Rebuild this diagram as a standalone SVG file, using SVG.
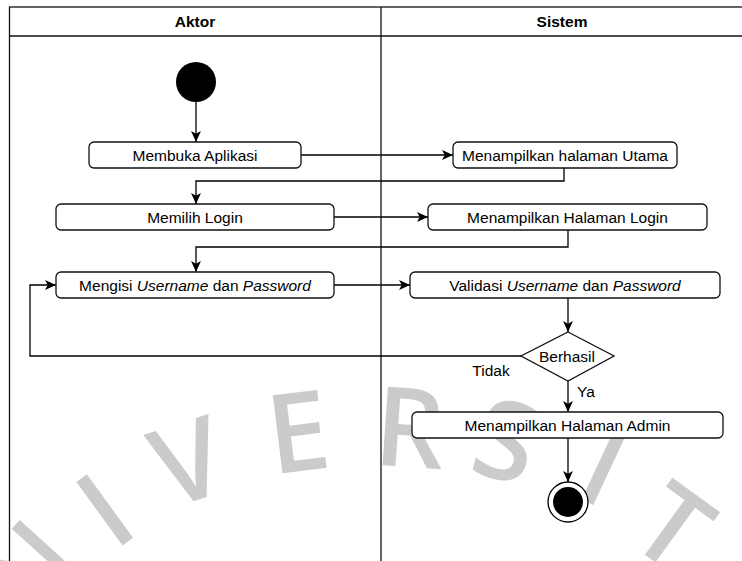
<svg xmlns="http://www.w3.org/2000/svg" width="742" height="561" viewBox="0 0 742 561">
<defs>
<style>
.lane{fill:none;stroke:#111;stroke-width:1.3}
.box{fill:#fff;stroke:#111;stroke-width:1.3}
.t{font-family:"Liberation Sans",Arial,Helvetica,sans-serif;font-size:15.5px;fill:#000;text-anchor:middle}
.h{font-family:"Liberation Sans",Arial,Helvetica,sans-serif;font-size:15.5px;font-weight:bold;fill:#000;text-anchor:middle}
.c{fill:none;stroke:#000;stroke-width:1.3}
.wm{font-family:"Open Sans","Liberation Sans",sans-serif;font-size:110px;font-weight:600;fill:#cbcbcb;text-anchor:middle}
</style>
<marker id="arr" viewBox="0 0 10 10" refX="10" refY="5" markerWidth="11" markerHeight="11" orient="auto" markerUnits="userSpaceOnUse">
<path d="M0,0.5 L10,5 L0,9.5 L2.5,5 z" fill="#000"/>
</marker>
</defs>
<rect width="742" height="561" fill="#fff"/>
<g id="watermark">
<text class="wm" transform="translate(27,571) rotate(-48)" y="39">N</text>
<text class="wm" transform="translate(105,510) rotate(-36)" y="39">I</text>
<text class="wm" transform="translate(188,462) rotate(-18)" y="39">V</text>
<text class="wm" transform="translate(298,432) rotate(-7)" y="39">E</text>
<text class="wm" transform="translate(410,428) rotate(4)" y="39">R</text>
<text class="wm" transform="translate(506,441) rotate(15)" y="39">S</text>
<text class="wm" transform="translate(604,467) rotate(25)" y="39">I</text>
<text class="wm" transform="translate(673,527) rotate(36)" y="39">T</text>
</g>
<g id="swimlanes">
<rect class="lane" x="9.5" y="7" width="734" height="570"/>
<line class="lane" x1="9.5" y1="36" x2="743.5" y2="36"/>
<line class="lane" x1="381" y1="7" x2="381" y2="561"/>
<text class="h" x="195" y="27">Aktor</text>
<text class="h" x="562" y="27">Sistem</text>
</g>
<g id="connectors">
<path class="c" d="M196,102 V142" marker-end="url(#arr)"/>
<path class="c" d="M301,155 H453" marker-end="url(#arr)"/>
<path class="c" d="M564,168 V181 H196 V204" marker-end="url(#arr)"/>
<path class="c" d="M334,217 H428" marker-end="url(#arr)"/>
<path class="c" d="M568,230 V247 H196 V272" marker-end="url(#arr)"/>
<path class="c" d="M334,285 H410" marker-end="url(#arr)"/>
<path class="c" d="M568,298 V332" marker-end="url(#arr)"/>
<path class="c" d="M521,356 H30 V285 H56" marker-end="url(#arr)"/>
<path class="c" d="M568,381 V412" marker-end="url(#arr)"/>
<path class="c" d="M568,438 V482" marker-end="url(#arr)"/>
<text class="t" x="491" y="376">Tidak</text>
<text class="t" x="577" y="397" style="text-anchor:start">Ya</text>
</g>
<g id="start">
<circle cx="196" cy="82" r="20" fill="#000"/>
</g>
<g id="membuka">
<rect class="box" x="89" y="142" width="212" height="26" rx="5"/>
<text class="t" x="195" y="160.5">Membuka Aplikasi</text>
</g>
<g id="utama">
<rect class="box" x="453" y="142" width="224" height="26" rx="5"/>
<text class="t" x="565" y="160.5">Menampilkan halaman Utama</text>
</g>
<g id="memilih">
<rect class="box" x="56" y="204" width="278" height="26" rx="5"/>
<text class="t" x="195" y="222.5">Memilih Login</text>
</g>
<g id="halLogin">
<rect class="box" x="428" y="204" width="279" height="26" rx="5"/>
<text class="t" x="567.5" y="222.5">Menampilkan Halaman Login</text>
</g>
<g id="mengisi">
<rect class="box" x="56" y="272" width="278" height="26" rx="5"/>
<text class="t" x="195" y="290.5">Mengisi <tspan font-style="italic">Username</tspan> dan <tspan font-style="italic">Password</tspan></text>
</g>
<g id="validasi">
<rect class="box" x="410" y="272" width="310" height="26" rx="5"/>
<text class="t" x="565" y="290.5">Validasi <tspan font-style="italic">Username</tspan> dan <tspan font-style="italic">Password</tspan></text>
</g>
<g id="berhasil">
<polygon class="box" points="568,332 614,356 568,381 521,356"/>
<text class="t" x="567" y="361.5">Berhasil</text>
</g>
<g id="admin">
<rect class="box" x="412" y="412" width="311" height="26" rx="5"/>
<text class="t" x="567.5" y="430.5">Menampilkan Halaman Admin</text>
</g>
<g id="end">
<circle cx="568" cy="502" r="20" fill="#fff" stroke="#000" stroke-width="1.3"/>
<circle cx="568" cy="502" r="15" fill="#000"/>
</g>
</svg>
